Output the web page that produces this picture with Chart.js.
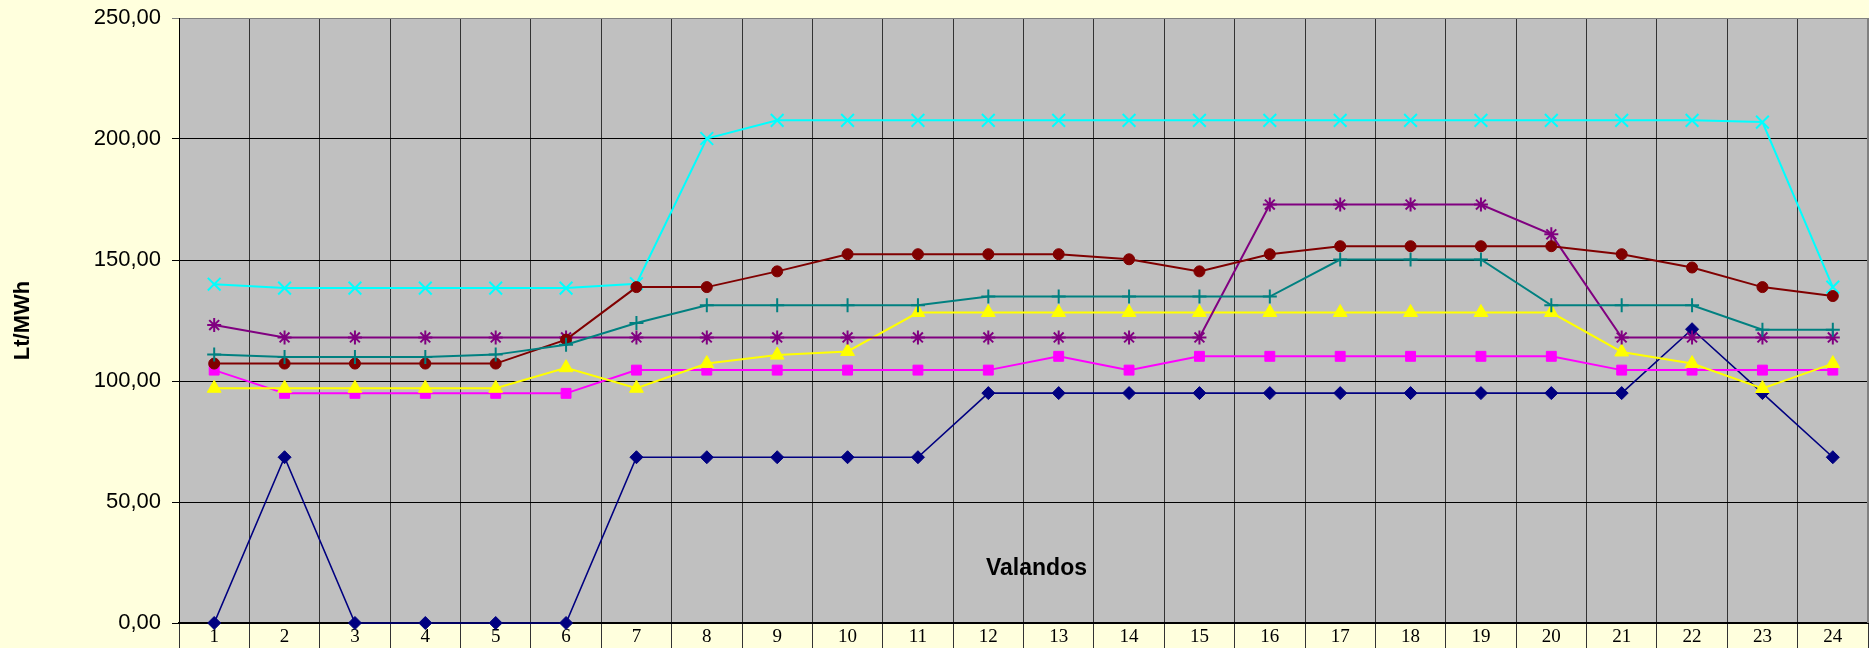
<!DOCTYPE html>
<html>
<head>
<meta charset="utf-8">
<script src="https://cdn.jsdelivr.net/npm/chart.js@4"></script>
<style>
  html, body { margin: 0; padding: 0; background: #FFFFDD; }
  #wrap { width: 1869px; height: 648px; }
</style>
</head>
<body>
<div id="wrap"><canvas id="c" width="1869" height="648"></canvas></div>
<script>
const hours = ['1','2','3','4','5','6','7','8','9','10','11','12','13','14','15','16','17','18','19','20','21','22','23','24'];
const yTicks = [0, 50, 100, 150, 200, 250];
const yAxisTitle = 'Lt/MWh';
const xAxisTitle = 'Valandos';

const seriesNavy    = [0, 68.5, 0, 0, 0, 0, 68.5, 68.5, 68.5, 68.5, 68.5, 95, 95, 95, 95, 95, 95, 95, 95, 95, 95, 121.4, 95, 68.5];
const seriesMagenta = [104.5, 94.9, 94.9, 94.9, 94.9, 94.9, 104.5, 104.5, 104.5, 104.5, 104.5, 104.5, 110.2, 104.5, 110.2, 110.2, 110.2, 110.2, 110.2, 110.2, 104.5, 104.5, 104.5, 104.5];
const seriesYellow  = [97, 97, 97, 97, 97, 105.5, 97, 107.2, 110.7, 112.2, 128.3, 128.3, 128.3, 128.3, 128.3, 128.3, 128.3, 128.3, 128.3, 128.3, 112, 107.2, 96.9, 107.2];
const seriesCyan    = [140, 138.4, 138.4, 138.4, 138.4, 138.4, 140.2, 200.2, 207.7, 207.7, 207.7, 207.7, 207.7, 207.7, 207.7, 207.7, 207.7, 207.7, 207.7, 207.7, 207.7, 207.7, 207, 138.8];
const seriesPurple  = [123.1, 118, 118, 118, 118, 118, 118, 118, 118, 118, 118, 118, 118, 118, 118, 172.9, 172.9, 172.9, 172.9, 160.6, 118, 118, 118, 118];
const seriesBrown   = [107.2, 107.2, 107.2, 107.2, 107.2, 117.1, 138.8, 138.8, 145.3, 152.4, 152.4, 152.4, 152.4, 150.3, 145.3, 152.4, 155.7, 155.7, 155.7, 155.7, 152.4, 146.9, 138.8, 135.1];
const seriesTeal    = [110.9, 109.9, 109.9, 109.9, 110.9, 115, 124, 131.3, 131.3, 131.3, 131.3, 134.9, 134.9, 134.9, 134.9, 134.9, 150.2, 150.2, 150.2, 131.3, 131.3, 131.3, 121.2, 121.2];

const specs = [
  { data: seriesNavy,    color: '#000080', style: 'rectRot',  r: 6.5, bw: 1, lw: 1.6 },
  { data: seriesMagenta, color: '#FF00FF', style: 'rect',     r: 7,   bw: 1, lw: 2 },
  { data: seriesYellow,  color: '#FFFF00', style: 'triangle', r: 8,   bw: 1, lw: 2 },
  { data: seriesCyan,    color: '#00FFFF', style: 'crossRot', r: 9,   bw: 2, lw: 2 },
  { data: seriesPurple,  color: '#800080', style: 'star',     r: 7,   bw: 2, lw: 2 },
  { data: seriesBrown,   color: '#800000', style: 'circle',   r: 5.5, bw: 1, lw: 2 },
  { data: seriesTeal,    color: '#008080', style: 'cross',    r: 7,   bw: 2, lw: 2 }
];

const datasets = specs.map((s, i) => ({
  data: s.data,
  borderColor: s.color,
  backgroundColor: s.color,
  borderWidth: s.lw,
  pointStyle: s.style,
  pointRadius: s.r,
  pointBorderWidth: s.bw,
  pointBackgroundColor: s.color,
  pointBorderColor: s.color,
  tension: 0,
  fill: false,
  clip: false,
  order: specs.length - i
}));

const bgPlugin = {
  id: 'bg',
  beforeDraw(chart) {
    const { ctx, chartArea: a } = chart;
    ctx.save();
    ctx.fillStyle = '#FFFFDD';
    ctx.fillRect(0, 0, chart.width, chart.height);
    ctx.fillStyle = '#C0C0C0';
    ctx.fillRect(a.left, a.top, a.right - a.left, a.bottom - a.top);
    ctx.restore();
  },
  afterDraw(chart) {
    const { ctx, chartArea: a } = chart;
    ctx.save();
    ctx.strokeStyle = '#808080';
    ctx.lineWidth = 2;
    ctx.beginPath();
    ctx.moveTo(a.right, a.top);
    ctx.lineTo(a.right, a.bottom);
    ctx.stroke();
    ctx.fillStyle = '#000';
    ctx.font = 'bold 23px "Liberation Sans", Arial, sans-serif';
    ctx.textAlign = 'center';
    ctx.textBaseline = 'middle';
    ctx.fillText(xAxisTitle, (a.left + a.right) / 2 + 13, a.bottom - 54);
    ctx.restore();
  }
};

new Chart(document.getElementById('c'), {
  type: 'line',
  data: { labels: hours, datasets },
  plugins: [bgPlugin],
  options: {
    responsive: false,
    devicePixelRatio: 1,
    animation: false,
    layout: { autoPadding: false, padding: { top: 18, right: 1, left: 0, bottom: 0 } },
    plugins: { legend: { display: false }, tooltip: { enabled: false } },
    scales: {
      x: {
        type: 'category',
        offset: true,
        grid: { offset: true, color: '#333333', lineWidth: 1, tickLength: 25, drawTicks: true },
        border: { display: true, color: '#000', width: 2 },
        ticks: {
          color: '#000',
          font: { family: '"Liberation Serif", "Times New Roman", serif', size: 19 },
          padding: -22,
          maxRotation: 0,
          autoSkip: false
        },
        afterFit(scale) { scale.height = 25; }
      },
      y: {
        min: yTicks[0],
        max: yTicks[yTicks.length - 1],
        afterBuildTicks(scale) { scale.ticks = yTicks.map(v => ({ value: v })); },
        grid: {
          color: (c) => (c.tick && c.tick.value === 250 ? '#808080' : '#000000'),
          lineWidth: 1,
          tickLength: 7
        },
        border: { display: true, color: '#000', width: 1 },
        ticks: {
          color: '#000',
          font: { family: '"Liberation Sans", Arial, sans-serif', size: 22 },
          padding: 11,
          callback: (v) => Number(v).toFixed(2).replace('.', ',')
        },
        title: {
          display: true,
          text: yAxisTitle,
          color: '#000',
          font: { family: '"Liberation Sans", Arial, sans-serif', size: 22, weight: 'bold' },
          padding: { top: 10, bottom: 0 }
        },
        afterFit(scale) {
          scale.width = 179;
          scale.paddingTop = 12;
          scale.paddingBottom = 12;
        }
      }
    }
  }
});
</script>
</body>
</html>
